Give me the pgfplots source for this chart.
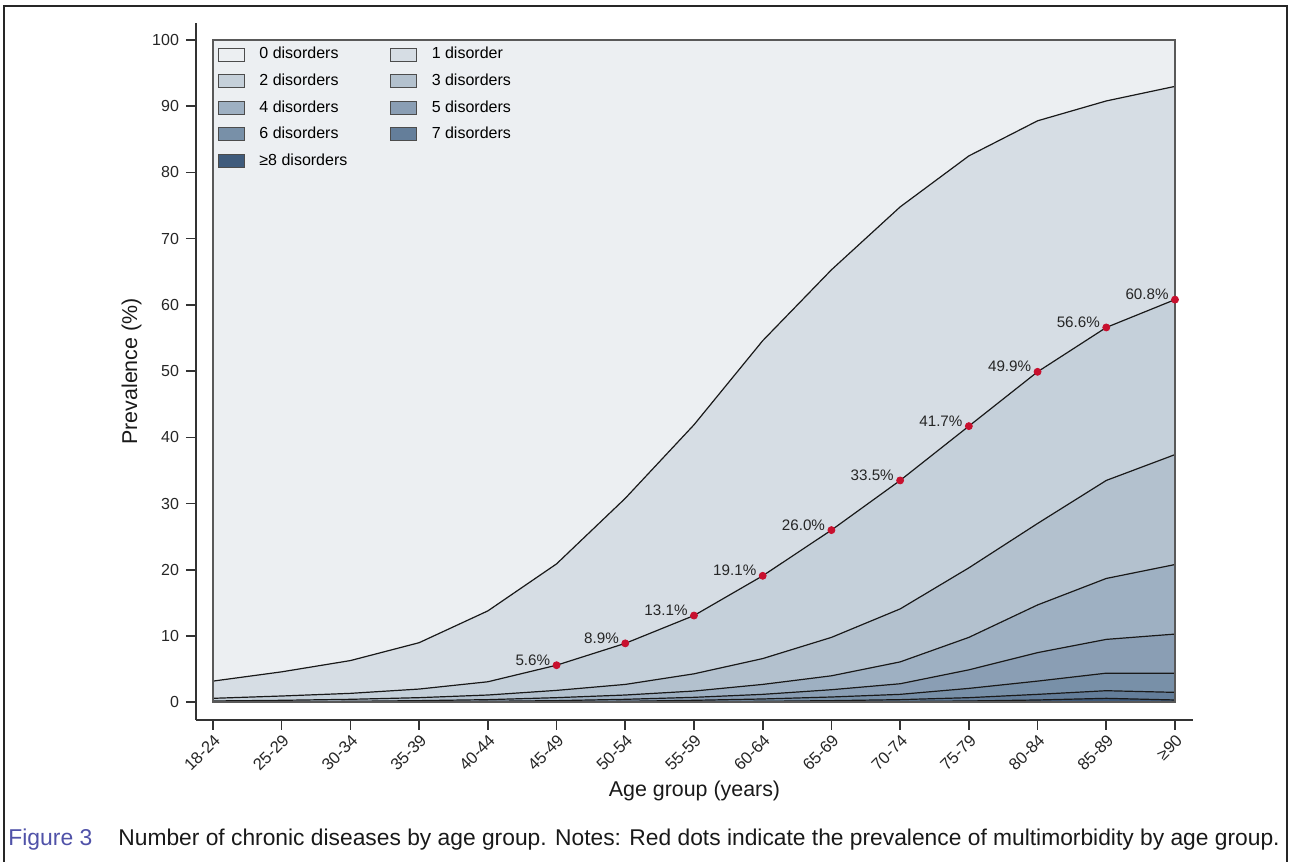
\documentclass[border=0pt]{standalone}
\usepackage{fontspec}
\setmainfont{Liberation Sans}
\usepackage{pgfplots}
\usepackage{pgfplotstable}
\pgfplotsset{compat=1.18}
\definecolor{c0}{HTML}{ECEFF2}
\definecolor{c1}{HTML}{D6DDE4}
\definecolor{c2}{HTML}{C5D0DA}
\definecolor{c3}{HTML}{B3C1CE}
\definecolor{c4}{HTML}{9EB0C2}
\definecolor{c5}{HTML}{8A9EB4}
\definecolor{c6}{HTML}{7890A8}
\definecolor{c7}{HTML}{647E9A}
\definecolor{c8}{HTML}{3F5B7C}
\definecolor{dotred}{HTML}{C8102E}
\definecolor{figblue}{HTML}{5052A8}
\pgfplotstableread{
x g0 g1 g2 g3 g4 g5 g6 g7 g8
0 100 3.2 0.6 0.2 0.05 0.02 0.01 0.00 0.00
1 100 4.6 0.95 0.3 0.10 0.03 0.01 0.00 0.00
2 100 6.3 1.35 0.45 0.15 0.05 0.02 0.00 0.00
3 100 9.0 2.0 0.7 0.25 0.10 0.03 0.01 0.00
4 100 13.8 3.1 1.1 0.40 0.15 0.05 0.02 0.00
5 100 20.9 5.6 1.8 0.70 0.25 0.10 0.03 0.01
6 100 30.8 8.9 2.7 1.10 0.45 0.15 0.05 0.01
7 100 41.9 13.1 4.3 1.70 0.75 0.30 0.10 0.02
8 100 54.6 19.1 6.6 2.70 1.20 0.50 0.15 0.04
9 100 65.3 26.0 9.8 4.00 1.90 0.80 0.25 0.07
10 100 74.8 33.5 14.1 6.10 2.80 1.20 0.40 0.12
11 100 82.5 41.7 20.3 9.80 4.90 2.10 0.70 0.20
12 100 87.8 49.9 27.0 14.7 7.50 3.20 1.20 0.35
13 100 90.8 56.6 33.5 18.7 9.50 4.40 1.75 0.60
14 100 93.0 60.8 37.4 20.8 10.3 4.40 1.50 0.35
}\data
\begin{document}
\begin{tikzpicture}
\begin{axis}[
  scale only axis, width=498.5pt, height=348.5pt,
  xmin=-0.247, xmax=14.262, ymin=-2.672, ymax=102.57,
  axis x line*=bottom, axis y line*=left,
  axis line style={draw=black!80, line width=0.8pt},
  tick align=outside, major tick length=5pt,
  tick style={draw=black!80, line width=0.8pt},
  xtick={0,...,14},
  xticklabels={18-24,25-29,30-34,35-39,40-44,45-49,50-54,55-59,60-64,65-69,70-74,75-79,80-84,85-89,≥90},
  x tick label style={rotate=45, anchor=north east, font=\fontsize{8.3}{9}\selectfont, inner sep=1pt, text=black!85},
  ytick={0,10,...,100},
  y tick label style={font=\fontsize{8}{9}\selectfont, text=black!85},
  /pgf/number format/assume math mode=true,
  xlabel={Age group (years)}, ylabel={Prevalence (\%)},
  xlabel style={at={(axis description cs:0.5,-0.110)}, anchor=base, font=\fontsize{10.7}{12}\selectfont, text=black!90},
  ylabel style={at={(axis description cs:-0.0645,0.5)}, anchor=center, font=\fontsize{10.7}{12}\selectfont, text=black!90},
  legend columns=2,
  legend cell align=left,
  legend style={at={(axis description cs:0.0175,0.979)}, anchor=north west, draw=none, fill=none,
    font=\fontsize{8}{9.6}\selectfont, inner sep=2pt,
    nodes={text height=6pt, text depth=1.7pt, inner sep=2.4pt},
    row sep=0.8pt,
    /tikz/every odd column/.append style={column sep=5pt},
    /tikz/every even column/.append style={column sep=19pt}},
  legend image code/.code={\draw[#1, draw=black!70, line width=0.4pt] (0pt,-3.25pt) rectangle (13pt,3.25pt);},
]
\addplot[fill=c0, draw=none] table[x=x,y=g0]{\data} \closedcycle;
\addlegendentry{0 disorders}
\addplot[fill=c1, draw=none] table[x=x,y=g1]{\data} \closedcycle;
\addlegendentry{1 disorder}
\addplot[fill=c2, draw=none] table[x=x,y=g2]{\data} \closedcycle;
\addlegendentry{2 disorders}
\addplot[fill=c3, draw=none] table[x=x,y=g3]{\data} \closedcycle;
\addlegendentry{3 disorders}
\addplot[fill=c4, draw=none] table[x=x,y=g4]{\data} \closedcycle;
\addlegendentry{4 disorders}
\addplot[fill=c5, draw=none] table[x=x,y=g5]{\data} \closedcycle;
\addlegendentry{5 disorders}
\addplot[fill=c6, draw=none] table[x=x,y=g6]{\data} \closedcycle;
\addlegendentry{6 disorders}
\addplot[fill=c7, draw=none] table[x=x,y=g7]{\data} \closedcycle;
\addlegendentry{7 disorders}
\addplot[fill=c8, draw=none] table[x=x,y=g8]{\data} \closedcycle;
\addlegendentry{≥8 disorders}
\pgfplotsinvokeforeach{g1,g2,g3,g4,g5,g6,g7,g8}{
  \addplot[draw=black!90, line width=0.6pt, forget plot] table[x=x,y=#1]{\data};
}
\draw[draw=black!65, line width=0.9pt] (axis cs:0,0) rectangle (axis cs:14,100);
\addplot[only marks, mark=*, mark size=1.75pt, color=dotred, forget plot,
  point meta=explicit symbolic, nodes near coords,
  every node near coord/.append style={anchor=base east, xshift=-3pt, inner sep=0pt,
    font=\fontsize{7.6}{9}\selectfont, text=black!85}]
  coordinates {(5,5.6) [5.6\%] (6,8.9) [8.9\%] (7,13.1) [13.1\%] (8,19.1) [19.1\%]
   (9,26.0) [26.0\%] (10,33.5) [33.5\%] (11,41.7) [41.7\%] (12,49.9) [49.9\%]
   (13,56.6) [56.6\%] (14,60.8) [60.8\%]};
\coordinate (O) at (rel axis cs:0,0);
\end{axis}
\begin{scope}[shift={(O)}, x=0.5pt, y=-0.5pt]
  \path[use as bounding box] (-196,-720) rectangle (1096,142);
  \draw[black!85, line width=1pt] (-192,142) -- (-192,-714) -- (1091,-714) -- (1091,142);
  \node[anchor=base west, inner sep=0pt, font=\fontsize{11.45}{13}\selectfont, text=figblue] at (-188,126) {Figure 3};
  \node[anchor=base west, inner sep=0pt, font=\fontsize{11.4}{13}\selectfont, text=black!90] at (-78,126) {Number of chronic diseases by age group. Notes: Red dots indicate the prevalence of multimorbidity by age group.};
\end{scope}
\end{tikzpicture}
\end{document}
